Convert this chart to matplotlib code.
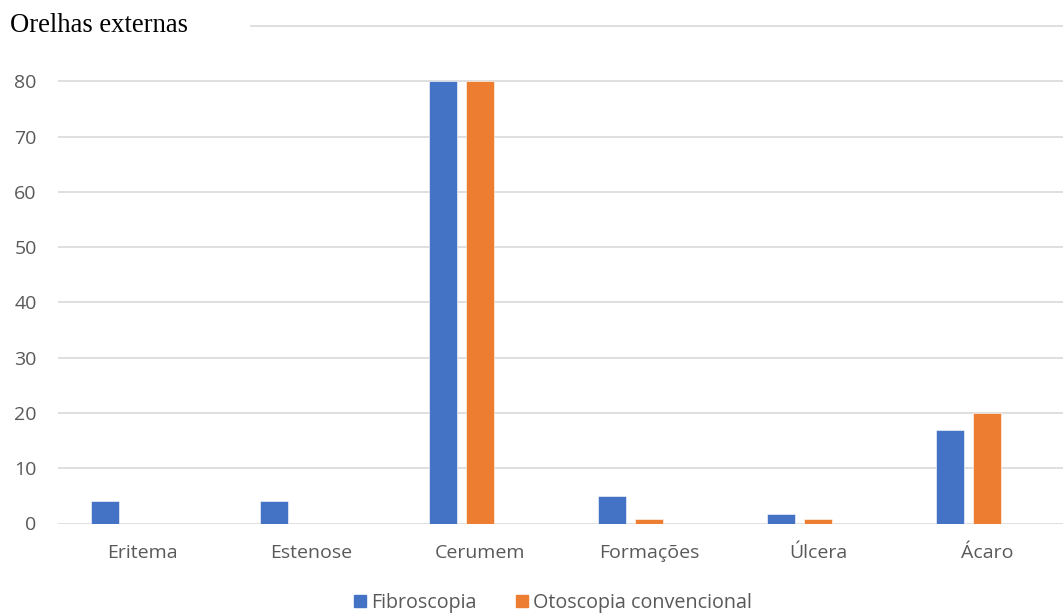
import numpy as np
import matplotlib.pyplot as plt
from matplotlib.patches import Patch

categorias = ["Eritema", "Estenose", "Cerumem", "Formações", "Úlcera", "Ácaro"]
fibroscopia = [4, 4, 80, 5, 1.8, 17]
otoscopia = [0, 0, 80, 0.8, 0.8, 20]
yticks = [0, 10, 20, 30, 40, 50, 60, 70, 80]

azul = "#4472C4"
laranja = "#ED7D31"
cinza_txt = "#595959"
cinza_grade = "#D9D9D9"

plt.rcParams['font.family'] = ['Open Sans', 'DejaVu Sans']

fig = plt.figure(figsize=(10.63, 6.16), dpi=100)
# a área do gráfico passa um pouco da borda direita, como no original
ax = fig.add_axes([57.5/1063, 1 - 523.5/616, 1014/1063, (523.5 - 26)/616])

x = np.arange(len(categorias))
w = 0.169
ax.bar(x - 0.219, fibroscopia, w, color=azul, edgecolor="white", linewidth=0.4, zorder=3)
ax.bar(x, otoscopia, w, color=laranja, edgecolor="white", linewidth=0.4, zorder=3)

ax.set_xlim(-0.5, len(categorias) - 0.5)
ax.set_ylim(0, 90)
ax.set_yticks(yticks)
for v in yticks:
    ax.axhline(v, color=cinza_grade, linewidth=1.2, zorder=1)
# linha de 90 parcialmente coberta pelo título
ax.axhline(90, xmin=(251 - 57.5)/1014, color=cinza_grade, linewidth=1.2, zorder=1, clip_on=False)

ax.set_xticks(x)
ax.set_xticklabels(categorias)
ax.tick_params(axis="both", length=0, labelsize=14, colors=cinza_txt)
ax.tick_params(axis="y", pad=15)
ax.tick_params(axis="x", pad=15)
for s in ax.spines.values():
    s.set_visible(False)

fig.text(10/1063, 1 - 25/616, "Orelhas externas", family="Liberation Serif",
         fontsize=19.2, color="black", va="center", ha="left")

handles = [Patch(color=azul, label="Fibroscopia"),
           Patch(color=laranja, label="Otoscopia convencional")]
fig.legend(handles=handles, loc="center", bbox_to_anchor=(553/1063, 1 - 603/616),
           ncol=2, frameon=False, fontsize=14.2, labelcolor=cinza_txt,
           handlelength=0.6, handleheight=0.6, handletextpad=0.25, columnspacing=2.0)

fig.savefig("out.png", dpi=100)
